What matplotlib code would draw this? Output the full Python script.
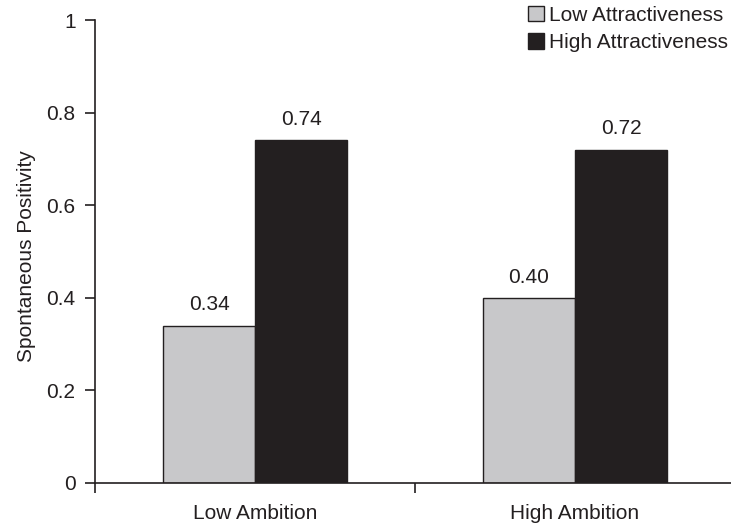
import numpy as np
import matplotlib
matplotlib.use('Agg')
import matplotlib.pyplot as plt
from matplotlib.patches import Patch

categories = ['Low Ambition', 'High Ambition']
series = ['Low Attractiveness', 'High Attractiveness']
low_attr = [0.34, 0.40]
high_attr = [0.74, 0.72]
value_labels = [['0.34', '0.40'], ['0.74', '0.72']]
yticks = [0, 0.2, 0.4, 0.6, 0.8, 1.0]
ytick_labels = ['0', '0.2', '0.4', '0.6', '0.8', '1']

ink = '#231f20'
gray = '#c8c8ca'

plt.rcParams['font.family'] = ['Liberation Sans', 'DejaVu Sans']
plt.rcParams['font.size'] = 15
plt.rcParams['text.color'] = ink

fig = plt.figure(figsize=(7.31, 5.26), dpi=100)
ax = fig.add_axes([95 / 731, 43 / 526, 640 / 731, 463 / 526])

x = np.arange(len(categories))
w = 0.2875
b1 = ax.bar(x - w / 2, low_attr, w, color=gray, edgecolor=ink, linewidth=1.0, label=series[0])
b2 = ax.bar(x + w / 2, high_attr, w, color=ink, edgecolor=ink, linewidth=1.0, label=series[1])

for bars, labs in zip([b1, b2], value_labels):
    for rect, lab in zip(bars, labs):
        ax.annotate(lab, (rect.get_x() + rect.get_width() / 2, rect.get_height()),
                    xytext=(0, 11), textcoords='offset points',
                    ha='center', va='baseline', fontsize=15, color=ink)

ax.set_xlim(-0.5, 1.5)
ax.set_ylim(0, 1)
ax.set_yticks(yticks)
ax.set_yticklabels(ytick_labels)

# category separators as major ticks, names as minor ticks
ax.set_xticks([-0.5, 0.5, 1.5])
ax.set_xticklabels([])
ax.set_xticks(x, minor=True)
ax.set_xticklabels(categories, minor=True)
ax.tick_params(axis='x', which='major', length=7, width=1.2, direction='out', color=ink)
ax.tick_params(axis='x', which='minor', length=0, pad=15, labelsize=15, labelcolor=ink)
ax.tick_params(axis='y', length=7, width=1.2, direction='out', pad=7, color=ink,
               labelsize=15, labelcolor=ink)

for s in ['top', 'right']:
    ax.spines[s].set_visible(False)
for s in ['left', 'bottom']:
    ax.spines[s].set_linewidth(1.2)
    ax.spines[s].set_color(ink)

ax.set_ylabel('Spontaneous Positivity', fontsize=15, color=ink)
ax.yaxis.set_label_coords((36 - 95) / 640, 0.49)

handles = [Patch(facecolor=gray, edgecolor=ink, linewidth=1.0),
           Patch(facecolor=ink, edgecolor=ink)]
fig.legend(handles, series, loc='upper left', bbox_to_anchor=(528 / 731, 1 - 6 / 526),
           frameon=False, handlelength=0.75, handleheight=0.75, handletextpad=0.25,
           labelspacing=0.4, borderpad=0, borderaxespad=0, fontsize=15)

fig.savefig('out.png', dpi=100)
